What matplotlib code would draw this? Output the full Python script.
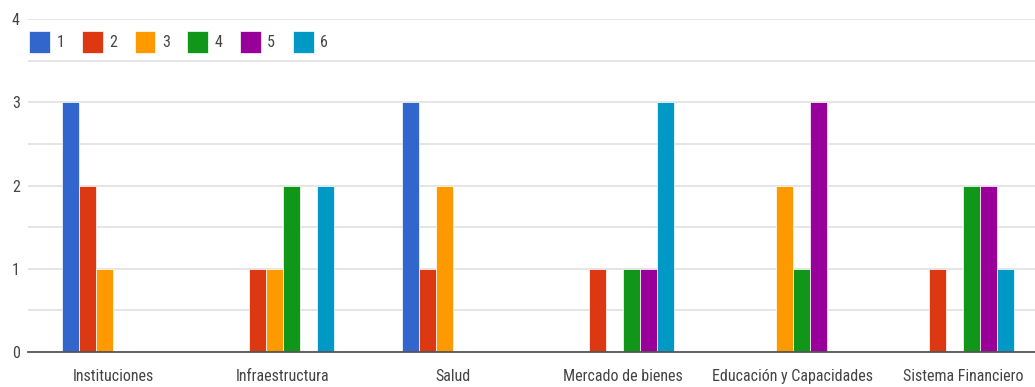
import numpy as np
import matplotlib
matplotlib.use("Agg")
import matplotlib.pyplot as plt
from matplotlib.font_manager import fontManager

categories = ["Instituciones", "Infraestructura", "Salud", "Mercado de bienes",
              "Educación y Capacidades", "Sistema Financiero"]
series_labels = ["1", "2", "3", "4", "5", "6"]
s1 = [3, 0, 3, 0, 0, 0]
s2 = [2, 1, 1, 1, 0, 1]
s3 = [1, 1, 2, 0, 2, 0]
s4 = [0, 2, 0, 1, 1, 2]
s5 = [0, 0, 0, 1, 3, 2]
s6 = [0, 2, 0, 3, 0, 1]
series = [s1, s2, s3, s4, s5, s6]
colors = ["#3366cc", "#dc3912", "#ff9900", "#109618", "#990099", "#0099c6"]

# narrow sans-serif for labels, first one installed
names = {f.name for f in fontManager.ttflist}
prefs = ["Roboto Condensed", "Liberation Sans Narrow", "Arial Narrow",
         "Archivo Narrow", "PT Sans Narrow", "Barlow Condensed", "Roboto"]
fam = next(p for p in prefs if p in names or p == "Roboto")
plt.rcParams["font.family"] = [fam, "DejaVu Sans"]
size = 11.5

W, H = 1035, 387
fig = plt.figure(figsize=(W / 100, H / 100), dpi=100)
left, right = 28, 1048
y0, y4 = 352, 19
ax = fig.add_axes([left / W, (H - y0) / H, (right - left) / W, (y0 - y4) / H])

x = np.arange(len(categories))
bw = 0.1
for i, (vals, c, lab) in enumerate(zip(series, colors, series_labels)):
    ax.bar(x - 0.3 + bw * (i + 0.5), vals, width=bw, color=c, label=lab,
           edgecolor="white", linewidth=0.5, zorder=3)

ax.set_xlim(-0.5, len(categories) - 0.5)
ax.set_ylim(0, 4)
ax.set_yticks([0, 1, 2, 3, 4])
ax.set_yticks(np.arange(0.5, 4, 1), minor=True)
ax.grid(axis="y", which="both", color="#e0e0e0", linewidth=1.2, zorder=0)
ax.set_xticks(x)
ax.set_xticklabels(categories)
ax.tick_params(axis="both", length=0, labelsize=size, colors="#444444")
ax.tick_params(axis="y", which="minor", length=0)
ax.tick_params(axis="x", pad=12)
ax.tick_params(axis="y", pad=6)
for s in ["top", "right", "left"]:
    ax.spines[s].set_visible(False)
ax.spines["bottom"].set_color("#555555")
ax.spines["bottom"].set_linewidth(1.3)
ax.spines["bottom"].set_zorder(4)

fig.legend(loc="upper left", bbox_to_anchor=(29 / W, 1 - 31 / H), ncol=6,
           frameon=False, handlelength=1.31, handleheight=1.7, handletextpad=0.4,
           columnspacing=1.1, borderpad=0, borderaxespad=0,
           prop={"size": size}, labelcolor="#444444")

fig.savefig("out.png", dpi=100, facecolor="white")
